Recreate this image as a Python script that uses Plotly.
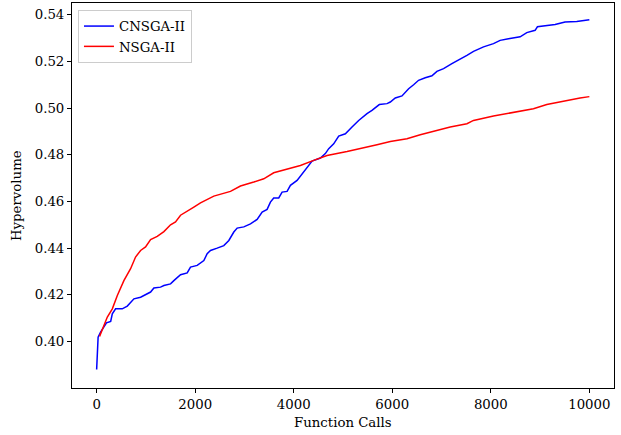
import plotly.graph_objects as go

# CNSGA-II (blue)
cnsga_x = [0, 30, 80, 200, 285, 318, 385, 520, 622, 757, 892, 1095, 1162, 1297, 1365, 1500,
           1567, 1703, 1838, 1905, 2041, 2176, 2243, 2311, 2446, 2581, 2683, 2784, 2852, 2987,
           3122, 3257, 3359, 3460, 3527, 3594, 3696, 3764, 3865, 3933, 4068, 4135, 4271, 4372,
           4541, 4642, 4710, 4811, 4913, 5048, 5183, 5318, 5487, 5588, 5737, 5893, 5960, 6061,
           6197, 6332, 6433, 6534, 6669, 6805, 6906, 7041, 7210, 7379, 7515, 7649, 7852, 8054,
           8189, 8358, 8595, 8730, 8899, 8946, 9136, 9305, 9507, 9744, 10000]
cnsga_y = [0.388, 0.4019, 0.404, 0.408, 0.4086, 0.4119, 0.414, 0.414, 0.4152, 0.4183, 0.419,
           0.4212, 0.4229, 0.4233, 0.424, 0.4247, 0.4261, 0.4286, 0.4294, 0.4319, 0.4326,
           0.4347, 0.4376, 0.439, 0.44, 0.4411, 0.4433, 0.4469, 0.4486, 0.4491, 0.4504, 0.4523,
           0.4555, 0.4566, 0.4597, 0.4615, 0.4615, 0.464, 0.4643, 0.4669, 0.469, 0.4708, 0.4747,
           0.4773, 0.4786, 0.4805, 0.4826, 0.4847, 0.488, 0.489, 0.4919, 0.4947, 0.4976, 0.499,
           0.5015, 0.5019, 0.5026, 0.5043, 0.5052, 0.5083, 0.51, 0.5119, 0.513, 0.5138, 0.5157,
           0.5169, 0.519, 0.5209, 0.5226, 0.5243, 0.5262, 0.5276, 0.529, 0.5297, 0.5305, 0.5323,
           0.5333, 0.5348, 0.5352, 0.5358, 0.5369, 0.5371, 0.5378]

# NSGA-II (red)
nsga_x = [60, 148, 217, 318, 420, 553, 689, 790, 892, 993, 1095, 1230, 1365, 1500, 1601, 1703,
          1838, 1973, 2108, 2243, 2378, 2716, 2919, 3189, 3392, 3594, 3865, 4135, 4406, 4676,
          5082, 5352, 5690, 5960, 6298, 6568, 6838, 7176, 7515, 7649, 8054, 8460, 8865, 9136,
          9541, 9811, 10000]
nsga_y = [0.4022, 0.4069, 0.4105, 0.414, 0.4197, 0.4261, 0.4312, 0.4362, 0.439, 0.4405, 0.4437,
          0.445, 0.4471, 0.45, 0.4512, 0.4541, 0.4557, 0.4576, 0.4594, 0.4607, 0.4623, 0.4643,
          0.4666, 0.4683, 0.4697, 0.4723, 0.4737, 0.4754, 0.4776, 0.4797, 0.4814, 0.4826,
          0.4843, 0.4857, 0.4869, 0.4886, 0.49, 0.4919, 0.4933, 0.4947, 0.4966, 0.4983, 0.4997,
          0.5015, 0.5033, 0.5043, 0.5049]

x_ticks = [0, 2000, 4000, 6000, 8000, 10000]
y_ticks = [0.40, 0.42, 0.44, 0.46, 0.48, 0.50, 0.52, 0.54]

font = dict(family="DejaVu Serif", size=13.3, color="black")

fig = go.Figure()
fig.add_trace(go.Scatter(x=cnsga_x, y=cnsga_y, mode="lines", name="CNSGA-II",
                         line=dict(color="#0000ff", width=1.5)))
fig.add_trace(go.Scatter(x=nsga_x, y=nsga_y, mode="lines", name="NSGA-II",
                         line=dict(color="#ff0000", width=1.5)))

axis_common = dict(showline=True, linecolor="black", linewidth=1, mirror=True,
                   ticks="outside", ticklen=4, tickcolor="black", tickwidth=1,
                   showgrid=False, zeroline=False, tickfont=font, automargin=False)

W, H = 621, 435
L, R, T, B = 72, 7, 3, 47

fig.update_layout(
    width=W, height=H,
    margin=dict(l=L, r=R, t=T, b=B, pad=0),
    paper_bgcolor="white", plot_bgcolor="white",
    font=font,
    xaxis=dict(range=[-500, 10500], tickvals=x_ticks, ticktext=[str(v) for v in x_ticks],
               **axis_common),
    yaxis=dict(range=[0.3801, 0.545], tickvals=y_ticks, ticktext=[f"{v:.2f}" for v in y_ticks],
               **axis_common),
    legend=dict(x=0.011, y=0.982, xanchor="left", yanchor="top",
                bgcolor="white", bordercolor="#cccccc", borderwidth=1,
                font=font, itemwidth=30, tracegroupgap=0),
    showlegend=True,
    annotations=[
        dict(text="Function Calls", xref="paper", yref="paper",
             x=0.5, y=-(423 - (H - B)) / (H - T - B), xanchor="center", yanchor="middle",
             showarrow=False, font=font),
        dict(text="Hypervolume", xref="paper", yref="paper",
             x=-(L - 17) / (W - L - R), y=1 - (196 - T) / (H - T - B),
             xanchor="center", yanchor="middle", textangle=-90,
             showarrow=False, font=font),
    ],
)

fig.write_html("out.html",
               config={"displayModeBar": False},
               post_script="document.body.style.margin='0';document.body.style.overflow='hidden';")
